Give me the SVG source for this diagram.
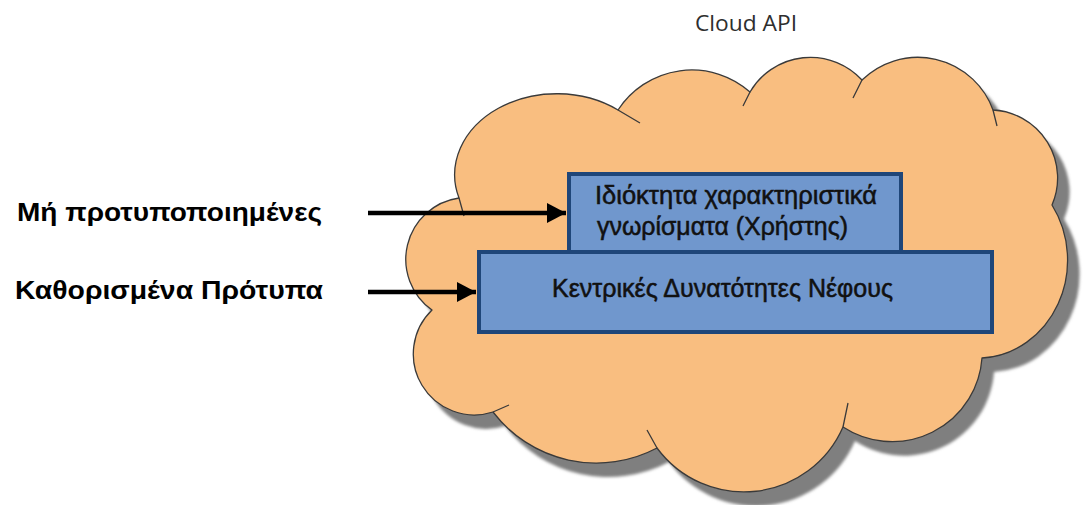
<svg xmlns="http://www.w3.org/2000/svg" xmlns:xlink="http://www.w3.org/1999/xlink" width="1088" height="505" viewBox="0 0 1088 505">
  <style>
    .label { font-family: "Liberation Sans", Arial, sans-serif; font-weight: bold; font-size: 26px; fill: #000; }
    .boxtext { font-family: "Liberation Sans", Arial, sans-serif; font-size: 26px; fill: #111; stroke: #111; stroke-width: 0.55; }
    .title { font-family: "Open Sans", "Liberation Sans", sans-serif; font-size: 21px; fill: #2e2e2e; }
    .box { fill: #7097cd; stroke: #1f4679; stroke-width: 4; }
    .cloud { fill: #f9be80; stroke: #3a3a3a; stroke-width: 1.3; stroke-linejoin: round; }
    .fold { fill: none; stroke: #3a3a3a; stroke-width: 1.3; }
    .arrow { stroke: #000; stroke-width: 4.5; fill: none; }
  </style>
  <defs>
    <path id="cloudShape" d="M 459 198 A 102 81 0 0 1 618 110 A 88 88 0 0 1 750 92 A 70 70 0 0 1 862 80 A 80 80 0 0 1 993 110 A 68 68 0 0 1 1052 205 A 90 98 0 0 1 982 358 A 90 90 0 0 1 843 427 A 108 108 0 0 1 657 448 A 130 130 0 0 1 493 412 A 61 61 0 0 1 432 310 A 62 62 0 0 1 459 198 Z"/>
    <filter id="soft" x="-5%" y="-5%" width="110%" height="110%">
      <feGaussianBlur stdDeviation="1.5"/>
    </filter>
    <marker id="head" markerWidth="20" markerHeight="20" refX="19" refY="10" orient="auto" markerUnits="userSpaceOnUse">
      <path d="M 0 0 L 19 10 L 0 20 Z" fill="#000"/>
    </marker>
  </defs>

  <text class="title" x="695" y="31" textLength="102" lengthAdjust="spacingAndGlyphs">Cloud API</text>

  <!-- cloud with drop shadow -->
  <g id="cloud">
    <use xlink:href="#cloudShape" href="#cloudShape" fill="#7f7f7f" transform="translate(12,14)" filter="url(#soft)"/>
    <use xlink:href="#cloudShape" href="#cloudShape" class="cloud"/>
    <path class="fold" d="M 459 198 L 464 216 M 618 110 L 640 123 M 750 92 L 743 106 M 862 80 L 853 98 M 993 110 L 997 126 M 843 427 L 848 403 M 657 448 L 647 430 M 493 412 L 509 405"/>
  </g>

  <g id="box-proprietary">
    <rect class="box" x="569" y="174" width="332" height="80"/>
    <text class="boxtext" x="595" y="204" textLength="282" lengthAdjust="spacingAndGlyphs">Ιδιόκτητα χαρακτηριστικά</text>
    <text class="boxtext" x="597" y="235" textLength="251" lengthAdjust="spacingAndGlyphs">γνωρίσματα (Χρήστης)</text>
  </g>

  <g id="box-core">
    <rect class="box" x="479" y="252" width="513" height="80"/>
    <text class="boxtext" x="552" y="297" textLength="341" lengthAdjust="spacingAndGlyphs">Κεντρικές Δυνατότητες Νέφους</text>
  </g>

  <g id="label-nonstandard">
    <text class="label" x="17" y="221" textLength="305" lengthAdjust="spacingAndGlyphs">Μή προτυποποιημένες</text>
  </g>

  <g id="label-standards">
    <text class="label" x="15" y="299" textLength="308" lengthAdjust="spacingAndGlyphs">Καθορισμένα Πρότυπα</text>
  </g>

  <g id="connectors">
    <line class="arrow" x1="368" y1="213" x2="566" y2="213" marker-end="url(#head)"/>
    <line class="arrow" x1="368" y1="292" x2="476" y2="292" marker-end="url(#head)"/>
  </g>
</svg>
